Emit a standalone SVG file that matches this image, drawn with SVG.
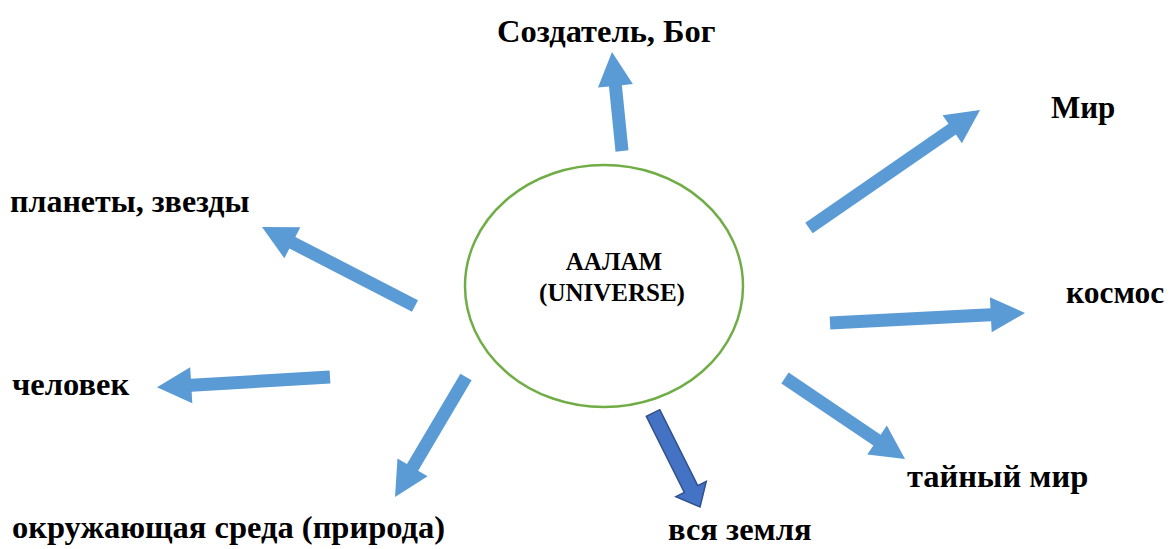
<svg xmlns="http://www.w3.org/2000/svg" width="1170" height="549" viewBox="0 0 1170 549">
<style>
text{font-family:'Liberation Serif','Times New Roman',serif;font-weight:bold;fill:#000}
.lbl{font-size:32.5px}
.ctr{font-size:25px}
.arr{fill:#5B9BD5;stroke:none}
.arr2{fill:#4472C4;stroke:#2F528F;stroke-width:1.5}
</style>
<rect width="1170" height="549" fill="#fff"/>
<g id="center">
<ellipse cx="604" cy="286" rx="139" ry="121" fill="#fff" stroke="#70AD47" stroke-width="2.5"/>
<text class="ctr" x="614" y="270" text-anchor="middle">ААЛАМ</text>
<text class="ctr" x="612" y="301" text-anchor="middle">(UNIVERSE)</text>
</g>
<g id="connectors">
<polygon class="arr" transform="translate(622,151) rotate(-95.77)" points="0,-6.5 65.5,-6.5 65.5,-17.5 99.5,0 65.5,17.5 65.5,6.5 0,6.5"/>
<polygon class="arr" transform="translate(809,228) rotate(-34.6)" points="0,-6.5 174,-6.5 174,-17 207.8,0 174,17 174,6.5 0,6.5"/>
<polygon class="arr" transform="translate(830,323) rotate(-2.94)" points="0,-6.5 161,-6.5 161,-17.5 195.3,0 161,17.5 161,6.5 0,6.5"/>
<polygon class="arr" transform="translate(785,378) rotate(34)" points="0,-6.5 111,-6.5 111,-17.5 144.8,0 111,17.5 111,6.5 0,6.5"/>
<polygon class="arr2" transform="translate(653,413) rotate(63.4)" points="0,-7.5 85,-7.5 85,-17 105,0 85,17 85,7.5 0,7.5"/>
<polygon class="arr" transform="translate(466,377) rotate(120.6)" points="0,-6.5 105,-6.5 105,-17.5 139.4,0 105,17.5 105,6.5 0,6.5"/>
<polygon class="arr" transform="translate(330,377) rotate(176.6)" points="0,-6.5 139,-6.5 139,-18 173.3,0 139,18 139,6.5 0,6.5"/>
<polygon class="arr" transform="translate(415,306) rotate(207.3)" points="0,-6.5 138,-6.5 138,-17.5 172.2,0 138,17.5 138,6.5 0,6.5"/>
</g>
<g id="n-creator"><text class="lbl" x="497" y="42">Создатель, Бог</text></g>
<g id="n-mir"><text class="lbl" x="1051" y="118" style="font-size:31px">Мир</text></g>
<g id="n-planets"><text class="lbl" x="10" y="212" style="font-size:32px">планеты, звезды</text></g>
<g id="n-kosmos"><text class="lbl" x="1066" y="303" style="font-size:31.5px">космос</text></g>
<g id="n-chelovek"><text class="lbl" x="12" y="395">человек</text></g>
<g id="n-secret"><text class="lbl" x="907" y="487">тайный мир</text></g>
<g id="n-earth"><text class="lbl" x="668" y="540">вся земля</text></g>
<g id="n-nature"><text class="lbl" x="12" y="538">окружающая среда (природа)</text></g>
</svg>
